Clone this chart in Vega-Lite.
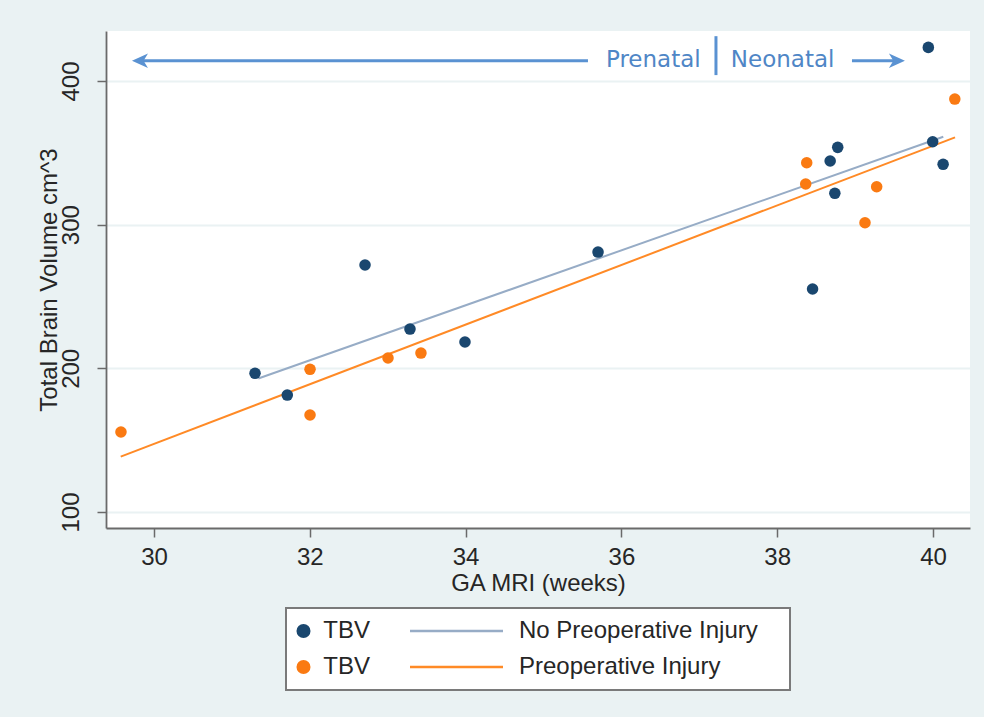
{
  "$schema": "https://vega.github.io/schema/vega-lite/v6.json",
  "width": 864,
  "height": 497,
  "autosize": {"type": "none"},
  "padding": {"left": 106, "top": 31, "right": 14, "bottom": 189},
  "background": "#eaf2f3",
  "config": {
    "view": {"fill": "white", "stroke": null},
    "font": "Liberation Sans",
    "legend": {"strokeWidth": 2},
    "axis": {
      "labelFont": "Liberation Sans",
      "titleFont": "Liberation Sans",
      "labelFontSize": 24,
      "titleFontSize": 24,
      "titleFontWeight": "normal",
      "labelColor": "#262626",
      "titleColor": "#262626",
      "domainColor": "#6a6a6a",
      "tickColor": "#6a6a6a",
      "domainWidth": 1.8,
      "tickWidth": 1.5,
      "tickSize": 9,
      "gridColor": "#eaf2f3",
      "gridWidth": 2
    }
  },
  "datasets": {
    "points": [
      {"series": "pt_no", "x": 31.297, "y": 196.5},
      {"series": "pt_no", "x": 31.711, "y": 181.4},
      {"series": "pt_no", "x": 32.709, "y": 271.9},
      {"series": "pt_no", "x": 33.286, "y": 227.3},
      {"series": "pt_no", "x": 33.992, "y": 218.3},
      {"series": "pt_no", "x": 35.70, "y": 280.9},
      {"series": "pt_no", "x": 38.454, "y": 255.2},
      {"series": "pt_no", "x": 38.68, "y": 344.3},
      {"series": "pt_no", "x": 38.777, "y": 353.8},
      {"series": "pt_no", "x": 38.74, "y": 321.8},
      {"series": "pt_no", "x": 39.94, "y": 423.4},
      {"series": "pt_no", "x": 39.996, "y": 357.7},
      {"series": "pt_no", "x": 40.13, "y": 342.0},
      {"series": "pt_pre", "x": 29.576, "y": 155.7},
      {"series": "pt_pre", "x": 32.003, "y": 199.3},
      {"series": "pt_pre", "x": 32.003, "y": 167.5},
      {"series": "pt_pre", "x": 33.004, "y": 207.2},
      {"series": "pt_pre", "x": 33.427, "y": 210.6},
      {"series": "pt_pre", "x": 38.379, "y": 343.1},
      {"series": "pt_pre", "x": 38.366, "y": 328.3},
      {"series": "pt_pre", "x": 39.127, "y": 301.3},
      {"series": "pt_pre", "x": 39.277, "y": 326.4},
      {"series": "pt_pre", "x": 40.28, "y": 387.4}
    ],
    "fits": [
      {"series": "ln_no", "x": 31.339, "y": 192.9},
      {"series": "ln_no", "x": 40.132, "y": 361.2},
      {"series": "ln_pre", "x": 29.573, "y": 138.5},
      {"series": "ln_pre", "x": 40.283, "y": 360.8}
    ],
    "arrows": [
      {"x": 29.82, "x2": 35.571, "y": 414.1},
      {"x": 38.96, "x2": 39.537, "y": 414.1}
    ],
    "heads": [
      {"dir": "left", "x": 29.82, "y": 414.1},
      {"dir": "right", "x": 39.537, "y": 414.1}
    ],
    "divider": [
      {"x": 37.214, "y": 404.1, "y2": 431.2}
    ],
    "annot": [
      {"label": "Prenatal", "x": 36.41, "y": 409.5},
      {"label": "Neonatal", "x": 38.07, "y": 409.5}
    ]
  },
  "layer": [
    {
      "data": {"name": "fits"},
      "mark": {"type": "line", "strokeWidth": 2},
      "encoding": {
        "x": {
          "field": "x",
          "type": "quantitative",
          "title": "GA MRI (weeks)",
          "scale": {"domain": [29.384, 40.475], "nice": false, "zero": false},
          "axis": {"values": [30, 32, 34, 36, 38, 40], "format": "d", "grid": false, "labelPadding": 8, "titlePadding": 2}
        },
        "y": {
          "field": "y",
          "type": "quantitative",
          "title": "Total Brain Volume cm^3",
          "scale": {"domain": [88.86, 434.8], "nice": false, "zero": false},
          "axis": {"values": [100, 200, 300, 400], "format": "d", "grid": true, "labelAngle": -90, "labelAlign": "center", "labelBaseline": "bottom", "labelPadding": 14, "titleX": -45, "titleBaseline": "bottom"}
        },
        "color": {
          "field": "series",
          "type": "nominal",
          "scale": {"domain": ["pt_no", "pt_pre", "ln_no", "ln_pre"], "range": ["#1a476f", "#fa7a12", "#97acc6", "#ff8a26"]},
          "legend": {
            "title": "\u00a0",
            "titleOrient": "right",
            "titlePadding": 21,
            "titleFontSize": 24,
            "orient": "none",
            "legendX": 180,
            "legendY": 577,
            "columns": 2,
            "columnPadding": 35,
            "rowPadding": 12,
            "padding": 11,
            "fillColor": "#ffffff",
            "strokeColor": "#7a7a7a",
            "labelFont": "Liberation Sans",
            "labelFontSize": 24,
            "labelColor": "#262626",
            "labelLimit": 600,
            "labelExpr": "(datum.value == 'pt_no' || datum.value == 'pt_pre') ? 'TBV' : (datum.value == 'ln_no' ? 'No Preoperative Injury' : 'Preoperative Injury')",
            "encode": {
              "symbols": {"update": {
                "shape": {"signal": "(datum.value == 'pt_no' || datum.value == 'pt_pre') ? 'circle' : 'stroke'"},
                "size": {"signal": "(datum.value == 'pt_no' || datum.value == 'pt_pre') ? 133 : 8649"},
                "fill": {"signal": "datum.value == 'pt_no' ? '#1a476f' : (datum.value == 'pt_pre' ? '#fa7a12' : 'transparent')"},
                "stroke": {"signal": "datum.value == 'ln_no' ? '#97acc6' : (datum.value == 'ln_pre' ? '#ff8a26' : 'transparent')"},
                "strokeWidth": {"value": 2.5},
                "opacity": {"value": 1},
                "x": {"signal": "(datum.value == 'pt_no' || datum.value == 'pt_pre') ? 6.5 : 46.5"},
                "y": {"value": 12}
              }},
              "labels": {"update": {
                "x": {"signal": "(datum.value == 'pt_no' || datum.value == 'pt_pre') ? 26.3 : 109"},
                "y": {"value": 12}
              }}
            }
          }
        }
      }
    },
    {
      "data": {"name": "points"},
      "mark": {"type": "point", "filled": true, "size": 133, "opacity": 1},
      "encoding": {
        "x": {"field": "x", "type": "quantitative"},
        "y": {"field": "y", "type": "quantitative"},
        "color": {"field": "series", "type": "nominal"}
      }
    },
    {
      "data": {"name": "arrows"},
      "mark": {"type": "rule", "color": "#5a92d2", "strokeWidth": 3},
      "encoding": {
        "x": {"field": "x", "type": "quantitative"},
        "x2": {"field": "x2"},
        "y": {"field": "y", "type": "quantitative"}
      }
    },
    {
      "data": {"name": "heads"},
      "mark": {"type": "point", "filled": true, "color": "#5a92d2", "size": 256, "opacity": 1},
      "encoding": {
        "x": {"field": "x", "type": "quantitative"},
        "y": {"field": "y", "type": "quantitative"},
        "shape": {
          "field": "dir",
          "type": "nominal",
          "scale": {"domain": ["left", "right"], "range": ["M-1,0L1,-0.9L0.45,0L1,0.9Z", "M1,0L-1,-0.9L-0.45,0L-1,0.9Z"]},
          "legend": null
        }
      }
    },
    {
      "data": {"name": "divider"},
      "mark": {"type": "rule", "color": "#5a92d2", "strokeWidth": 3},
      "encoding": {
        "x": {"field": "x", "type": "quantitative"},
        "y": {"field": "y", "type": "quantitative"},
        "y2": {"field": "y2"}
      }
    },
    {
      "data": {"name": "annot"},
      "mark": {"type": "text", "font": "DejaVu Sans", "fontSize": 23, "color": "#4f86c6", "align": "center", "baseline": "alphabetic"},
      "encoding": {
        "x": {"field": "x", "type": "quantitative"},
        "y": {"field": "y", "type": "quantitative"},
        "text": {"field": "label"}
      }
    }
  ]
}
